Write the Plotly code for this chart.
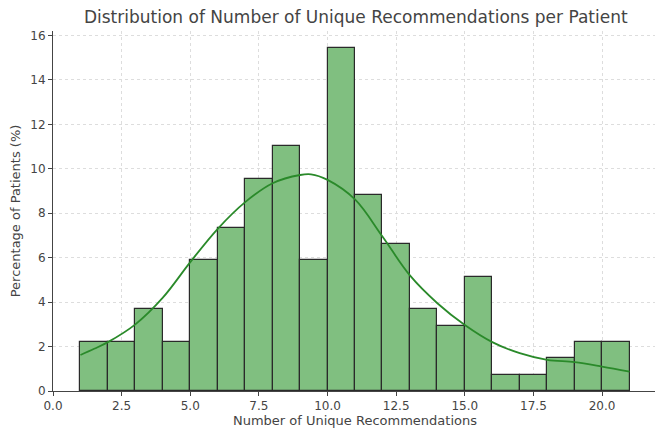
import plotly.graph_objects as go

# Histogram data (bins of width 1 from 1 to 21), counts of patients
bin_starts = [1, 2, 3, 4, 5, 6, 7, 8, 9, 10, 11, 12, 13, 14, 15, 16, 17, 18, 19, 20]
counts = [3, 3, 5, 3, 8, 10, 13, 15, 8, 21, 12, 9, 5, 4, 7, 1, 1, 2, 3, 3]
total = sum(counts)
percent = [c / total * 100 for c in counts]

# KDE curve
kde_x = [1, 1.5, 2, 3, 4, 5, 6, 7, 8, 9, 9.4, 10, 11, 12, 13, 14, 15, 16, 17, 18, 19, 20, 21]
kde_y = [1.62, 1.9, 2.2, 3.0, 4.2, 5.8, 7.3, 8.5, 9.35, 9.72, 9.75, 9.5, 8.62, 6.95, 5.2,
         3.95, 2.97, 2.2, 1.7, 1.4, 1.3, 1.1, 0.87]

x_ticks = [0, 2.5, 5, 7.5, 10, 12.5, 15, 17.5, 20]
x_tick_labels = ["0.0", "2.5", "5.0", "7.5", "10.0", "12.5", "15.0", "17.5", "20.0"]
y_ticks = [0, 2, 4, 6, 8, 10, 12, 14, 16]

font_family = "DejaVu Sans, Liberation Sans, sans-serif"

fig = go.Figure()
fig.add_trace(go.Bar(
    x=[b + 0.5 for b in bin_starts],
    y=percent,
    width=1,
    marker=dict(color="#80bf80", line=dict(color="#2a2a2a", width=1.2)),
    showlegend=False,
    hoverinfo="skip",
))
fig.add_trace(go.Scatter(
    x=kde_x, y=kde_y, mode="lines",
    line=dict(color="#2a8a2a", width=1.8, shape="spline"),
    showlegend=False,
))

fig.update_layout(
    width=655, height=423,
    margin=dict(l=45, r=6, t=23, b=40),
    plot_bgcolor="white", paper_bgcolor="white",
    bargap=0,
    font=dict(family=font_family, size=12, color="#444444"),
    title=dict(text="Distribution of Number of Unique Recommendations per Patient",
               x=0.531, xanchor="center", y=0.979, yanchor="middle",
               font=dict(size=17, color="#444444")),
)
fig.update_xaxes(
    range=[0, 22], tickvals=x_ticks, ticktext=x_tick_labels,
    showgrid=True, gridcolor="#dddddd", griddash="dot", gridwidth=1,
    showline=True, linecolor="#444444", linewidth=1,
    ticks="outside", ticklen=4, tickcolor="#444444",
    zeroline=False, automargin=False,
    tickfont=dict(size=12),
    title=dict(text="Number of Unique Recommendations", standoff=3, font=dict(size=13)),
)
fig.update_yaxes(
    range=[0, 16.2], tickvals=y_ticks,
    showgrid=True, gridcolor="#dddddd", griddash="dot", gridwidth=1,
    showline=True, linecolor="#444444", linewidth=1,
    ticks="outside", ticklen=4, tickcolor="#444444",
    zeroline=False, automargin=False,
    tickfont=dict(size=12),
    title=dict(text="Percentage of Patients (%)", standoff=6, font=dict(size=13)),
)

fig.write_html("out.html")
